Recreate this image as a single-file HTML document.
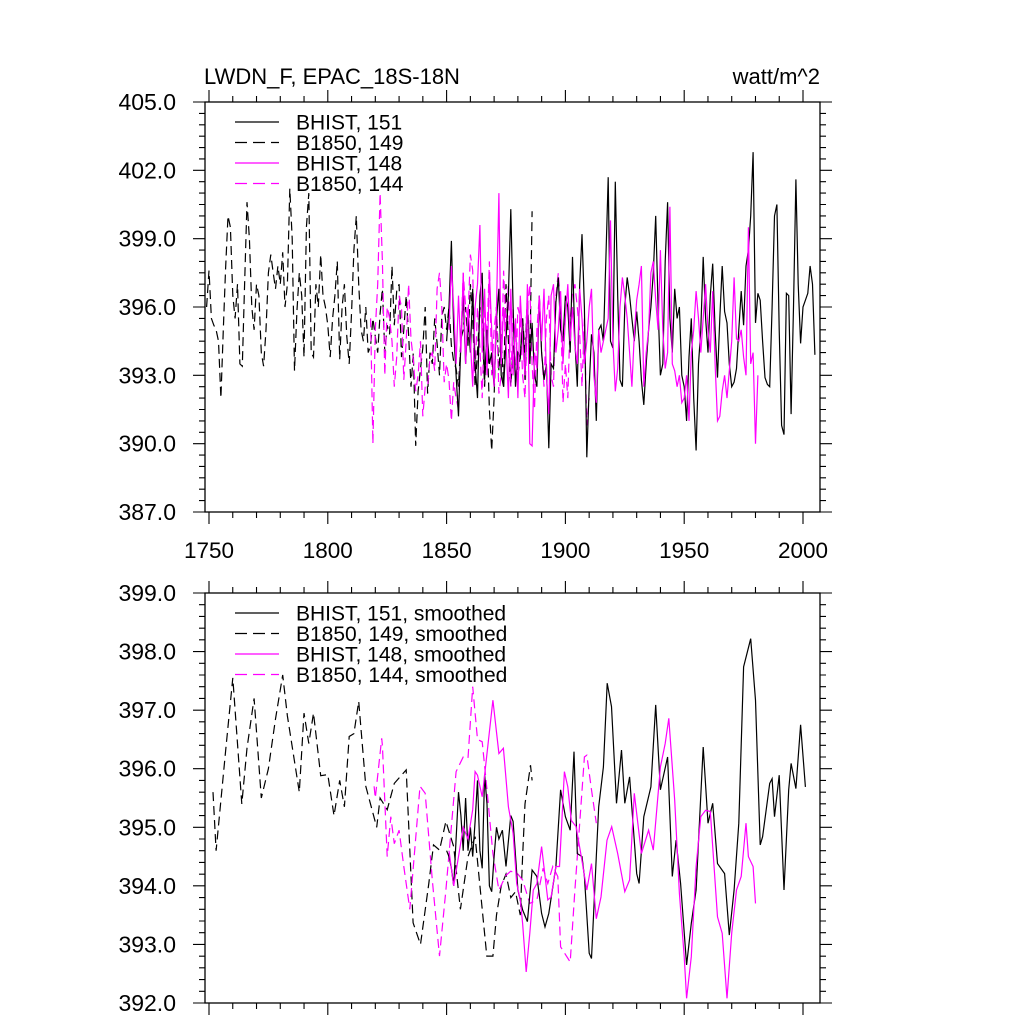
<!DOCTYPE html>
<html><head><meta charset="utf-8"><style>
body{margin:0;background:#fff}
svg text{font-family:"Liberation Sans",sans-serif;fill:#000}
</style></head><body>
<svg id="chart" width="1024" height="1024" viewBox="0 0 1024 1024" xmlns="http://www.w3.org/2000/svg">
<rect width="1024" height="1024" fill="#fff"/>
<text x="204" y="84" font-size="22">LWDN_F, EPAC_18S-18N</text>
<text x="820" y="84" font-size="22" text-anchor="end">watt/m^2</text>
<g id="g"></g>
</svg>
<script>
// ---------- data: top panel (annual) ----------
const bhist151Start = 1850;
const bhist151 = [394.5,396,398.9,395,393,391.2,394.5,396.5,393.5,395.5,394,396.8,393.5,392,396.5,397.5,392.8,395,393.5,394,392.5,395.5,396.8,393,392.5,394.5,396.5,400.3,396,392.5,394,393.8,395.5,392.8,396.3,393.5,395.3,393,392.5,396.5,394,392.8,393.5,389.8,393.5,393.3,396.2,397.3,395,394.5,396.5,396,394,398.2,394.5,392.5,397,399.2,396,389.4,392.5,394.8,394,391,395,395.2,394.5,398,401.7,394.5,394.2,401.5,396.5,392.8,392.5,396,397.3,396.5,395.5,394.5,395.8,394.5,392.8,391.7,393.5,395,396,397.5,400,396,393,393.5,398,400.6,395.5,394,396.8,395.5,396,393,392.5,391,393.8,395.5,392,389.7,393.5,395,398.2,395.5,394,396.5,397.9,395,392.9,395.5,397.8,395.8,395.3,393.5,392.5,392.7,393.3,395,396.7,395.2,397.8,398.5,400,402.8,395.3,396.6,396.3,394.5,392.9,392.6,392.5,396,400,400.5,395,390.8,390.4,396.6,396.5,391.3,396,401.6,397,394.4,396,396.3,396.6,397.8,397,393.9];
const b1850_149Start = 1749;
const b1850_149 = [396,397.6,395.5,395.2,395,394.5,392,395,397.7,400,399.5,396.5,395.5,397,393.5,393.4,397,400.6,399,396,395,397,396.5,394,393.4,395,397.5,398.3,397.5,396.8,397.8,397,398.4,396,397,401.2,399,393.2,395.8,397.5,396.5,393.8,399.5,401,394,393.8,397,396,398.3,396.5,396,395.2,393.8,395.5,396.5,398,393.7,396,397,394.7,393.5,395.8,398.5,400,397,395,394.5,396,394,394.3,395.5,394.7,394,395.7,396.8,394,395.2,394.8,397.8,395.2,396.7,397,393.8,395,396.5,394.8,392.5,394,389.9,392.3,393.3,394.2,396,392.2,394,393.5,395.5,394.4,393,395.6,396,395,396,394.3,393.6,393.3,392.5,394.6,395,396,394.3,397,395.5,392.5,394,396,395.3,392.5,395,391.5,389.7,392,396,393.2,394.8,392.5,397,394.5,392.5,394.2,395,393,393.8,395.5,394,396.5,393.5,400.2];
const bhist148Start = 1851;
const bhist148 = [395,397.8,396,393.5,396.5,394,397.5,393.5,396,394.5,392.5,396,397,399.6,394,396.8,393,397.5,395,392.5,396,401,393.5,396,394.5,392,396.8,393,395.5,392,396.5,394.5,393,397,390,389.9,394,393.3,396.5,394.5,396.8,393,391.3,396.5,397,394,395,396.7,393.5,395.5,397,394.5,396,394.3,393.5,396.8,395.5,393.5,394.5,396,396.8,393,391.8,395,394,394.5,395,395.5,399.8,394.5,392.3,393.3,396,397.3,396.5,395.5,394,392.5,394.8,396.3,397,397.8,392.5,394,395,397.5,398,396.3,395,398.5,395,393.3,394,400.4,393.5,393.2,392.5,393,391.8,392,393,391,394,395,396.7,395.5,394,395.5,397,395,394,396.7,393.5,391,391.2,392.3,393,392,393.2,394.5,397.3,394.6,394.5,395,393.8,393,399.5,393.5,394,390,393];
const b1850_144Start = 1818;
const b1850_144 = [395.5,390,395,397,401,398,393,396,395.5,394.5,392.5,393.8,396.5,396,392.8,394.5,397,394.6,393.7,392.3,393,394.5,391.2,392.5,392.5,393.8,394,393.2,396.8,397.5,396,392.7,393.5,392.8,391,392.7,392,391.5,394.5,397.5,396,395.5,398.3,397.6,393,396,394.2,392,396,394.7,398,393,395,396,392.2,393,397.6,395,397,392.5,396,392.5,396,395.5,393,392,396,397,393.5,391.5,395,396.5,394,392.5,395.5,396.5,393,392.5,396.5,397.5,396,391.8,393.5,392,395.5,396.6,397,396,394.8,392.5,395.5,390.8,392];
// ---------- data: bottom panel (smoothed) ----------
const sB151Years = [1850,1851,1852,1853,1854,1855,1856,1857,1858,1859,1860,1861,1862,1863,1864,1865,1866,1867,1868,1869,1870,1871,1872,1873.5,1875,1877,1878,1880,1882,1884,1886,1888,1890,1891.4,1893,1896,1898,1900,1902,1903.6,1905,1907,1908,1910,1911,1913,1914,1916,1917.6,1919.4,1921.5,1923.6,1925,1927,1930,1931,1933,1936,1938,1940,1943,1945,1946.6,1948.5,1951,1953,1955,1958,1960,1962,1964,1967,1969,1971,1973,1975,1978,1980,1982,1983,1986,1987,1988,1990,1992,1994,1995,1997,1999,2001];
const sB151Vals = [394.6,394.5,394.3,394.0,394.8,395.6,395.2,394.6,395.5,394.6,395.0,394.5,395.1,395.8,394.6,394.3,395.9,395.4,394.0,393.9,394.5,395.0,394.8,394.95,394.33,395.2,395.1,393.93,393.59,393.39,394.27,394.16,393.53,393.3,393.53,394.33,395.64,395.18,394.95,396.29,394.55,394.5,394.16,392.85,392.76,394.5,395.35,396.03,397.46,397.06,395.41,396.32,395.41,395.86,394.21,394.04,395.18,395.69,397.09,395.64,396.2,394.16,394.78,394.04,392.65,393.36,393.93,396.37,395.07,395.41,394.38,394.21,393.16,393.93,395.07,397.74,398.22,397.17,394.7,394.84,395.75,395.83,395.18,395.89,393.93,395.64,396.09,395.66,396.75,395.69];
const sB149Years = [1751.7,1753,1757,1760,1763.8,1766,1769,1772,1775,1778,1781,1783,1788,1790,1792,1794,1797,1800,1802.6,1805,1807,1809,1811,1813,1816,1820.6,1822,1825,1828,1833,1835.9,1839,1842.5,1844.5,1847,1849.7,1853,1855.8,1859,1862,1866.9,1869.5,1871,1873,1875,1877,1879,1881,1882,1883,1885.3,1886];
const sB149Vals = [395.6,394.6,396.3,397.55,395.4,396.35,397.2,395.5,396.0,396.85,397.6,396.9,395.6,396.95,396.43,396.95,395.88,395.9,395.2,395.8,395.35,396.55,396.6,397.15,395.7,395.0,395.5,395.3,395.75,395.98,393.37,393.0,394.04,394.7,394.61,395.1,394.67,393.6,394.5,394.84,392.8,392.8,393.5,394.0,394.2,393.8,393.9,393.5,394.5,395.4,396.06,395.8];
const sB148Years = [1851,1853,1855,1857,1859,1861,1862,1863,1865,1869.5,1872,1873.9,1876,1878,1879.5,1881,1882,1883.5,1885,1886.5,1888,1890,1892.6,1894,1896,1897.5,1899.6,1901,1902.5,1904.5,1906.7,1909,1911,1913,1915,1917.5,1919.5,1922,1925,1927,1929,1932,1935,1937,1940,1942,1943.5,1946,1948,1950,1951,1953,1955,1957,1959,1961,1964,1966,1968,1970,1972,1974,1976,1977,1979,1980];
const sB148Vals = [394.6,394.0,394.5,395.0,394.8,395.3,395.95,395.89,395.52,397.17,396.26,396.35,395.35,394.9,394.04,393.76,393.36,392.53,393.19,393.93,394.04,394.67,393.76,393.81,394.33,394.33,395.95,395.69,395.12,395.01,394.5,393.93,394.38,393.44,393.81,394.78,395.01,394.55,393.9,394.1,395.58,394.55,394.95,394.61,396.03,396.43,396.86,395.46,393.87,392.79,392.08,392.79,394.33,395.18,395.29,395.27,393.47,393.19,392.08,393.19,393.93,394.16,395.07,394.5,394.33,393.7];
const sB144Years = [1819.5,1820,1822.7,1823,1825,1826.5,1828,1830,1832,1834.5,1838.8,1841,1844,1847,1849.7,1854,1857,1859,1861,1863,1865,1867,1869.5,1872,1875,1877,1880,1882,1885,1888,1890.6,1892.6,1894.7,1896.8,1898,1902,1904,1906,1908,1909,1911,1913];
const sB144Vals = [395.7,395.5,396.52,396.4,394.5,395.18,394.72,394.95,394.33,393.6,395.7,395.58,394.1,392.8,393.93,395.95,396.2,396.18,397.4,396.5,396.46,395.64,394.55,393.93,394.18,394.25,394.2,394.1,393.7,393.76,394.3,394.04,394.33,394.16,392.96,392.7,393.93,395.07,396.2,396.23,395.64,395.07];
const topYTicks = ["387.0","390.0","393.0","396.0","399.0","402.0","405.0"];
const botYTicks = ["392.0","393.0","394.0","395.0","396.0","397.0","398.0","399.0"];
const xTickLabels = ["1750","1800","1850","1900","1950","2000"];

const NS = "http://www.w3.org/2000/svg";
const G = document.getElementById("g");
const L = 205, R = 820;
const xmap = yr => 209 + (yr - 1750) * 2.376;
const panels = [
  {top:102, bot:512, min:387, max:405, major:3, minor:0.5, labels:topYTicks, xlabels:true, name:"top"},
  {top:593, bot:1003, min:392, max:399, major:1, minor:0.2, labels:botYTicks, xlabels:false, name:"bottom"}
];
function mk(tag, attrs){const e=document.createElementNS(NS,tag);for(const k in attrs)e.setAttribute(k,attrs[k]);G.appendChild(e);return e;}
function yfn(p){return v => p.bot - (v - p.min) / (p.max - p.min) * (p.bot - p.top);}

panels.forEach(p => {
  const ym = yfn(p);
  const fr = mk("rect",{x:L,y:p.top,width:R-L,height:p.bot-p.top,fill:"none",stroke:"#000","stroke-width":1.3});
  
  
  let d = "";
  const n = Math.round((p.max - p.min) / p.minor);
  for (let i = 0; i <= n; i++) {
    const v = p.min + i * p.minor; const y = ym(v);
    const isMaj = Math.abs((v - p.min) / p.major - Math.round((v - p.min) / p.major)) < 1e-6;
    const len = isMaj ? 12 : 6;
    d += `M${L} ${y}h${-len}M${R} ${y}h${len}`;
  }
  for (let yr = 1750; yr <= 2000; yr += 10) {
    const x = xmap(yr); const len = yr % 50 === 0 ? 12 : 6;
    d += `M${x} ${p.bot}v${len}M${x} ${p.top}v${-len}`;
  }
  const tk = mk("path",{d:d,stroke:"#000","stroke-width":1.1,fill:"none"});
  
  
  p.labels.forEach((lab, i) => {
    const t = mk("text",{x:176,y:ym(p.min + i * p.major)+8,"font-size":23,"text-anchor":"end"});
    t.textContent = lab;
    
    
  });
  if (p.xlabels) xTickLabels.forEach(lab => {
    const t = mk("text",{x:xmap(+lab),y:558,"font-size":22.5,"text-anchor":"middle"});
    t.textContent = lab;
    
    
  });
});

function drawSeries(p, years, vals, color, dashed, name){
  const ym = yfn(p);
  const pts = vals.map((v,i) => xmap(years[i]).toFixed(1) + "," + ym(v).toFixed(1)).join(" ");
  const a = {points:pts,fill:"none",stroke:color,"stroke-width":1.2};
  if (dashed) a["stroke-dasharray"] = "9,5";
  const e = mk("polyline", a);
  
  
}
const yrs = (s, arr) => arr.map((_, i) => s + i);
const P0 = panels[0], P1 = panels[1];
drawSeries(P0, yrs(b1850_149Start,b1850_149), b1850_149, "#000", true, "b1850-149-line");
drawSeries(P0, yrs(b1850_144Start,b1850_144), b1850_144, "#f0f", true, "b1850-144-line");
drawSeries(P0, yrs(bhist151Start,bhist151), bhist151, "#000", false, "bhist-151-line");
drawSeries(P0, yrs(bhist148Start,bhist148), bhist148, "#f0f", false, "bhist-148-line");
drawSeries(P1, sB149Years, sB149Vals, "#000", true, "b1850-149-smoothed-line");
drawSeries(P1, sB144Years, sB144Vals, "#f0f", true, "b1850-144-smoothed-line");
drawSeries(P1, sB151Years, sB151Vals, "#000", false, "bhist-151-smoothed-line");
drawSeries(P1, sB148Years, sB148Vals, "#f0f", false, "bhist-148-smoothed-line");

function legend(y0, labels){
  const colors = ["#000000","#000000","#ff00ff","#ff00ff"];
  const dashes = [false,true,false,true];
  labels.forEach((lab,i) => {
    const y = y0 + i * 20.5;
    const ln = mk("line",{x1:235,x2:279,y1:y,y2:y,stroke:colors[i],"stroke-width":1.2});
    if (dashes[i]) ln.setAttribute("stroke-dasharray","12,6");
    
    
    const t = mk("text",{x:296,y:y+7.5,"font-size":21});
    t.textContent = lab;
    
    
  });
}
legend(122, ["BHIST, 151","B1850, 149","BHIST, 148","B1850, 144"]);
legend(613, ["BHIST, 151, smoothed","B1850, 149, smoothed","BHIST, 148, smoothed","B1850, 144, smoothed"]);
</script>
</body></html>
